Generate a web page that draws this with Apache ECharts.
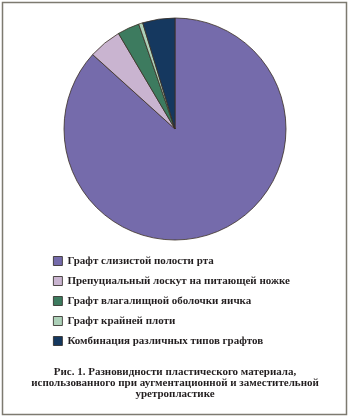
<!DOCTYPE html>
<html><head><meta charset="utf-8">
<script src="https://cdn.jsdelivr.net/npm/echarts@6/dist/echarts.min.js"></script>
<style>html,body{margin:0;padding:0;background:#fff}#c{width:350px;height:420px}</style>
</head><body><div id="c"></div>
<script>
const categories = [
  'Графт слизистой полости рта',
  'Препуциальный лоскут на питающей ножке',
  'Графт влагалищной оболочки яичка',
  'Графт крайней плоти',
  'Комбинация различных типов графтов'
];
const values = [86.7, 4.8, 3.2, 0.6, 4.7];
const colors = ['#756bab', '#c9b4d0', '#3d7b5f', '#acd0b8', '#15385f'];
const caption = 'Рис. 1. Разновидности пластического материала,\nиспользованного при аугментационной и заместительной\nуретропластике';

const chart = echarts.init(document.getElementById('c'), null, {renderer: 'canvas'});
chart.setOption({
  animation: false,
  color: colors,
  legend: {
    orient: 'vertical',
    left: 48,
    top: 250,
    itemWidth: 9,
    itemHeight: 9,
    itemGap: 8,
    icon: 'rect',
    data: categories,
    itemStyle: {borderColor: '#2a2420', borderWidth: 0.8},
    textStyle: {fontFamily: 'Liberation Serif', fontWeight: 'bold', fontSize: 11, color: '#231f20', lineHeight: 12}
  },
  series: [{
    type: 'pie',
    center: [175, 129],
    radius: 111,
    startAngle: 90,
    clockwise: true,
    label: {show: false},
    labelLine: {show: false},
    emphasis: {disabled: true},
    itemStyle: {borderColor: '#3a2e25', borderWidth: 0.8},
    data: categories.map((n, i) => ({name: n, value: values[i]}))
  }],
  graphic: [{
    type: 'rect',
    shape: {x: 2.5, y: 2.5, width: 344, height: 412},
    style: {fill: 'none', stroke: '#7d7a70', lineWidth: 1.5},
    silent: true
  }, {
    type: 'text',
    x: 175,
    y: 367,
    silent: true,
    style: {
      text: caption,
      align: 'center',
      verticalAlign: 'top',
      font: 'bold 11px "Liberation Serif"',
      lineHeight: 11,
      fill: '#231f20'
    }
  }]
});
</script></body></html>
